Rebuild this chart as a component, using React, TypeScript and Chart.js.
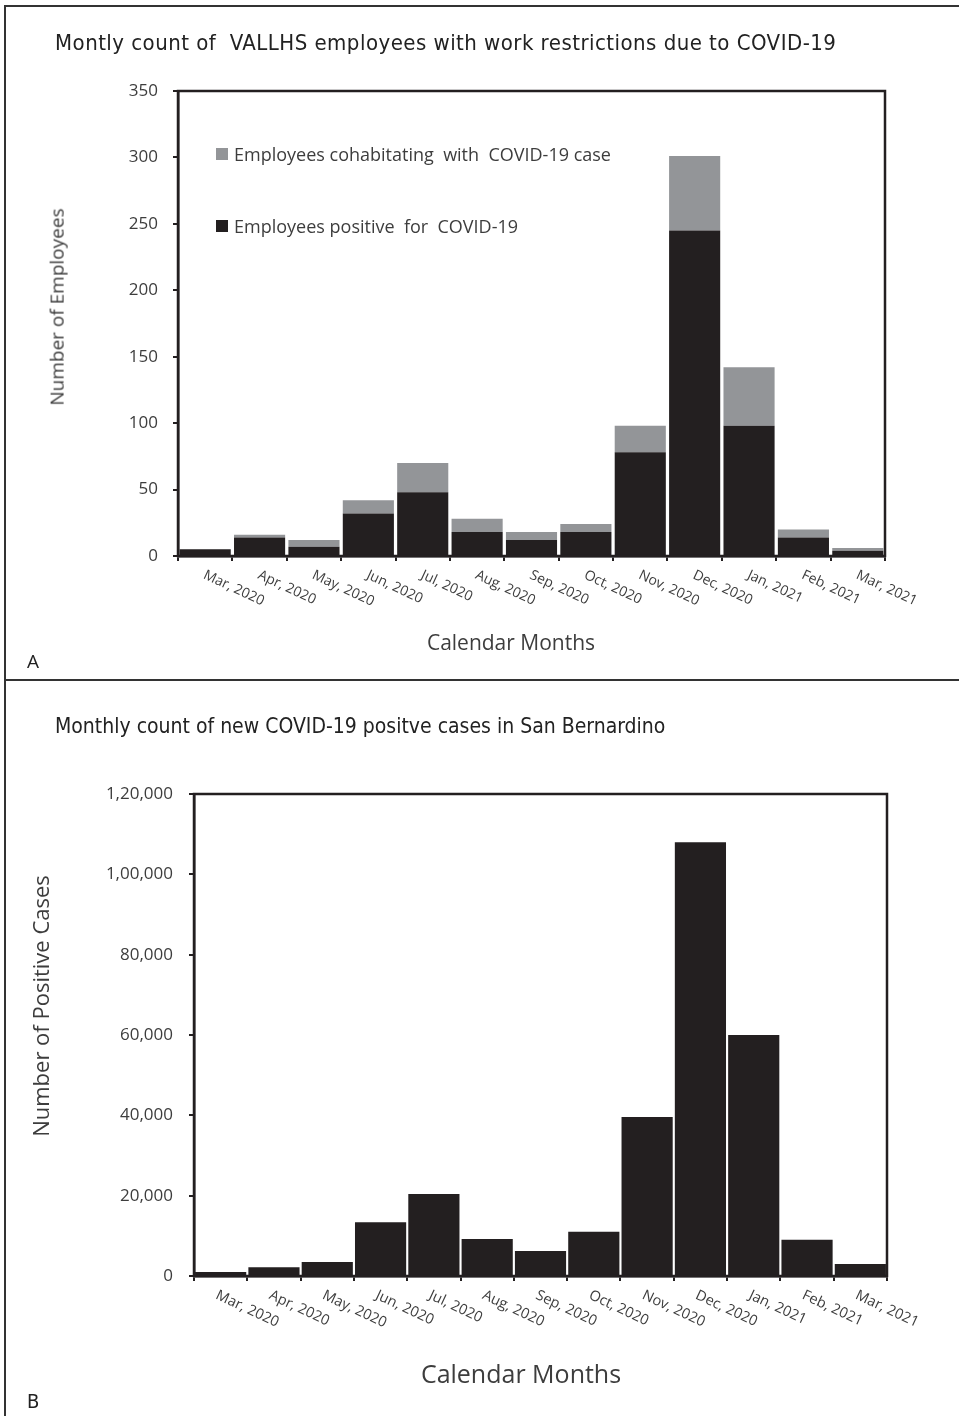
import React, { useEffect, useRef } from "react";
import { Chart, registerables } from "chart.js";

Chart.register(...registerables);

const months = [
  "Mar, 2020", "Apr, 2020", "May, 2020", "Jun, 2020", "Jul, 2020", "Aug, 2020",
  "Sep, 2020", "Oct, 2020", "Nov, 2020", "Dec, 2020", "Jan, 2021", "Feb, 2021", "Mar, 2021",
];
const employeesPositive = [5, 14, 7, 32, 48, 18, 12, 18, 78, 245, 98, 14, 4];
const employeesCohabitating = [0, 2, 5, 10, 22, 10, 6, 6, 20, 56, 44, 6, 2];
const sanBernardinoCases = [1000, 2200, 3500, 13400, 20400, 9200, 6200, 11000, 39600, 108000, 60000, 9000, 3000];

const employeeTicks = [0, 50, 100, 150, 200, 250, 300, 350];
const caseTicks = [0, 20000, 40000, 60000, 80000, 100000, 120000];

const BLACK = "#231f20";
const GRAY = "#939598";
const TEXT = "#3d3d3d";
const SANS = "'Open Sans', 'DejaVu Sans', sans-serif";
const NARROW = "'Liberation Sans Narrow', 'DejaVu Sans Condensed', 'Open Sans', sans-serif";

function fmtIN(v: number): string {
  const s = String(Math.round(v));
  if (s.length <= 3) return s;
  const last3 = s.slice(-3);
  const rest = s.slice(0, -3).replace(/\B(?=(\d{2})+(?!\d))/g, ",");
  return rest + "," + last3;
}

const framePlugin = {
  id: "frame",
  afterDatasetsDraw(chart: any) {
    const { ctx, chartArea } = chart;
    ctx.save();
    ctx.strokeStyle = BLACK;
    ctx.lineWidth = 2.5;
    ctx.strokeRect(chartArea.left, chartArea.top, chartArea.right - chartArea.left, chartArea.bottom - chartArea.top);
    ctx.restore();
  },
};

function rotLabels(fontSize: number, dx: number, dy: number) {
  return {
    id: "rotLabels",
    afterDraw(chart: any) {
      const { ctx, chartArea } = chart;
      const xs = chart.scales.x;
      ctx.save();
      ctx.fillStyle = TEXT;
      ctx.font = `${fontSize}px ${SANS}`;
      ctx.textAlign = "left";
      ctx.textBaseline = "top";
      xs.ticks.forEach((_t: any, i: number) => {
        const x = xs.getPixelForTick(i);
        ctx.save();
        ctx.translate(x + dx, chartArea.bottom + dy);
        ctx.rotate((25 * Math.PI) / 180);
        ctx.fillText(String(chart.data.labels[i]), 0, 0);
        ctx.restore();
      });
      ctx.restore();
    },
  };
}

const gridOpts = { drawOnChartArea: false, drawTicks: true, tickLength: 5, color: BLACK, lineWidth: 2 };
const borderOpts = { display: true, color: BLACK, width: 2.5 };

function ChartA() {
  const ref = useRef<HTMLCanvasElement | null>(null);
  useEffect(() => {
    if (!ref.current) return;
    const chart = new Chart(ref.current, {
      type: "bar",
      data: {
        labels: months,
        datasets: [
          {
            label: "Employees positive for COVID-19",
            data: employeesPositive,
            backgroundColor: BLACK,
            borderWidth: 0,
            barPercentage: 0.94,
            categoryPercentage: 1,
          },
          {
            label: "Employees cohabitating  with  COVID-19 case",
            data: employeesCohabitating,
            backgroundColor: GRAY,
            borderWidth: 0,
            barPercentage: 0.94,
            categoryPercentage: 1,
          },
        ],
      },
      options: {
        animation: false,
        responsive: false,
        layout: { padding: { left: 0, right: 74, top: 91, bottom: 0 } },
        plugins: { legend: { display: false }, tooltip: { enabled: false }, title: { display: false } },
        scales: {
          x: {
            stacked: true,
            grid: gridOpts,
            border: borderOpts,
            ticks: { display: false },
            afterFit: (s: any) => { s.height = 123; },
          },
          y: {
            stacked: true,
            min: 0,
            max: 350,
            afterBuildTicks: (s: any) => { s.ticks = employeeTicks.map((v) => ({ value: v })); },
            grid: gridOpts,
            border: borderOpts,
            ticks: { color: TEXT, font: { family: SANS, size: 17 }, padding: 15 },
            afterFit: (s: any) => { s.width = 178; },
          },
        },
      },
      plugins: [framePlugin, rotLabels(14, 2, 12)],
    });
    return () => chart.destroy();
  }, []);
  return <canvas ref={ref} width={959} height={679} style={{ position: "absolute", left: 0, top: 0 }} />;
}

function ChartB() {
  const ref = useRef<HTMLCanvasElement | null>(null);
  useEffect(() => {
    if (!ref.current) return;
    const chart = new Chart(ref.current, {
      type: "bar",
      data: {
        labels: months,
        datasets: [
          {
            label: "New COVID-19 positive cases",
            data: sanBernardinoCases,
            backgroundColor: BLACK,
            borderWidth: 0,
            barPercentage: 0.96,
            categoryPercentage: 1,
          },
        ],
      },
      options: {
        animation: false,
        responsive: false,
        layout: { padding: { left: 0, right: 72, top: 115, bottom: 0 } },
        plugins: { legend: { display: false }, tooltip: { enabled: false }, title: { display: false } },
        scales: {
          x: {
            grid: gridOpts,
            border: borderOpts,
            ticks: { display: false },
            afterFit: (s: any) => { s.height = 140; },
          },
          y: {
            min: 0,
            max: 120000,
            afterBuildTicks: (s: any) => { s.ticks = caseTicks.map((v) => ({ value: v })); },
            grid: gridOpts,
            border: borderOpts,
            ticks: { color: TEXT, font: { family: SANS, size: 17 }, padding: 16, callback: (v: any) => fmtIN(Number(v)) },
            afterFit: (s: any) => { s.width = 194; },
          },
        },
      },
      plugins: [framePlugin, rotLabels(14.5, -1, 12)],
    });
    return () => chart.destroy();
  }, []);
  return <canvas ref={ref} width={959} height={737} style={{ position: "absolute", left: 0, top: 0 }} />;
}

const legendItems = [
  { label: "Employees cohabitating  with  COVID-19 case", color: GRAY, top: 144 },
  { label: "Employees positive  for  COVID-19", color: BLACK, top: 216 },
];

function VTitle(props: { text: string; cx: number; cy: number; size: number }) {
  return (
    <div
      style={{
        position: "absolute",
        left: props.cx,
        top: props.cy,
        transform: "translate(-50%, -50%) rotate(-90deg)",
        fontFamily: SANS,
        fontSize: props.size,
        color: TEXT,
        whiteSpace: "pre",
        lineHeight: 1.2,
      }}
    >
      {props.text}
    </div>
  );
}

function HTitle(props: { text: string; cx: number; cy: number; size: number }) {
  return (
    <div
      style={{
        position: "absolute",
        left: props.cx,
        top: props.cy,
        transform: "translate(-50%, -50%)",
        fontFamily: SANS,
        fontSize: props.size,
        color: TEXT,
        whiteSpace: "pre",
        lineHeight: 1.2,
      }}
    >
      {props.text}
    </div>
  );
}

export default function App() {
  return (
    <div style={{ position: "absolute", left: 0, top: 0, width: 959, height: 1416, overflow: "hidden", background: "#fff" }}>
      <div style={{ position: "absolute", left: 0, top: 0, width: 959, height: 679 }}>
        <ChartA />
        <div style={{ position: "absolute", left: 55, top: 30, fontFamily: NARROW, fontSize: 22, letterSpacing: "0.47px", color: "#222", whiteSpace: "pre", lineHeight: "26px" }}>
          Montly count of  VALLHS employees with work restrictions due to COVID-19
        </div>
        {legendItems.map((it) => (
          <div key={it.label} style={{ position: "absolute", left: 216, top: it.top, display: "flex", alignItems: "center", fontFamily: SANS, fontSize: 18, color: TEXT, whiteSpace: "pre", lineHeight: "20px" }}>
            <span style={{ display: "inline-block", width: 12, height: 12, background: it.color, marginRight: 6 }} />
            {it.label}
          </div>
        ))}
        <VTitle text="Number of Employees" cx={57} cy={307} size={19} />
        <HTitle text="Calendar Months" cx={511} cy={643} size={21} />
        <div style={{ position: "absolute", left: 27, top: 650, fontFamily: SANS, fontSize: 19, color: "#222", lineHeight: "22px" }}>A</div>
      </div>
      <div style={{ position: "absolute", left: 0, top: 679, width: 959, height: 737 }}>
        <ChartB />
        <div style={{ position: "absolute", left: 55, top: 34, fontFamily: NARROW, fontSize: 21, color: "#222", whiteSpace: "pre", lineHeight: "26px" }}>
          Monthly count of new COVID-19 positve cases in San Bernardino
        </div>
        <VTitle text="Number of Positive Cases" cx={40} cy={327} size={22} />
        <HTitle text="Calendar Months" cx={521} cy={694} size={25} />
        <div style={{ position: "absolute", left: 27, top: 711, fontFamily: NARROW, fontSize: 20, color: "#222", lineHeight: "22px" }}>B</div>
      </div>
      <div style={{ position: "absolute", left: 4, top: 5, width: 1000, height: 672, border: "2px solid #333", pointerEvents: "none" }} />
      <div style={{ position: "absolute", left: 4, top: 679, width: 1000, height: 800, borderLeft: "2px solid #333", pointerEvents: "none" }} />
    </div>
  );
}
